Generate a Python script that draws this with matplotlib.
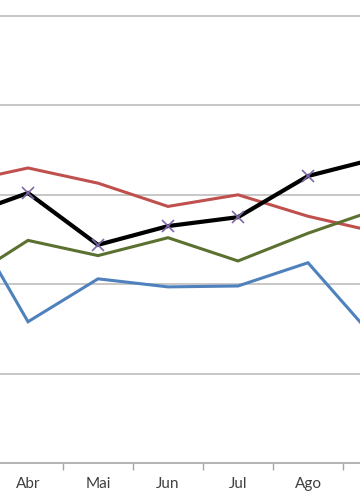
import numpy as np
import matplotlib
matplotlib.use('Agg')
import matplotlib.pyplot as plt

# months (first and last are outside the visible crop)
months = ['Mar', 'Abr', 'Mai', 'Jun', 'Jul', 'Ago', 'Set']

# series values
red = [31.3, 33.0, 31.3, 28.7, 30.0, 27.6, 25.8]
black = [27.4, 30.2, 24.4, 26.5, 27.5, 32.1, 34.1]
green = [19.9, 24.9, 23.2, 25.2, 22.6, 25.7, 28.4]
blue = [29.4, 15.8, 20.6, 19.7, 19.8, 22.4, 13.5]

W, H = 360, 504
fig = plt.figure(figsize=(W / 100, H / 100), dpi=100)
ax = fig.add_axes([0, 41 / H, 1, 463 / H])

x = np.arange(len(months))

ax.plot(x, red, color='#C0504D', lw=2.2, solid_joinstyle='miter', zorder=3)
ax.plot(x, green, color='#5A7130', lw=2.2, solid_joinstyle='miter', zorder=3)
ax.plot(x, blue, color='#4F81BD', lw=2.2, solid_joinstyle='miter', zorder=3)
ax.plot(x, black, color='black', lw=3, solid_joinstyle='miter', zorder=4)
ax.plot(x[1:6], black[1:6], ls='none', marker='x', ms=9, mew=1.2,
        color='#7F68A8', zorder=5)

ax.set_yticks([10, 20, 30, 40, 50])
ax.yaxis.grid(True, color='#BDBDBD', lw=1.2)
ax.set_axisbelow(True)
ax.tick_params(axis='y', left=False, labelleft=False)

# ticks between categories, labels at category centres (visible ones only)
ax.set_xticks(x[:-1] + 0.5)
ax.set_xticks(x[1:6], minor=True)
ax.set_xticklabels([])
ax.set_xticklabels(months[1:6], minor=True, fontsize=11,
                   family=['Lato', 'DejaVu Sans'], color='#404040')
ax.tick_params(axis='x', which='major', direction='out', length=5,
               color='#A6A6A6', width=1)
ax.tick_params(axis='x', which='minor', length=0, pad=10)

# x range so that Abr sits at 28 px and months are 70 px apart
ax.set_xlim(1 - 28 / 70, 1 + 332 / 70)
ax.set_ylim(0, 463 / 8.94)

for s in ['top', 'left', 'right']:
    ax.spines[s].set_visible(False)
ax.spines['bottom'].set_color('#A6A6A6')
ax.spines['bottom'].set_linewidth(1.2)

fig.savefig('out.png', dpi=100)
